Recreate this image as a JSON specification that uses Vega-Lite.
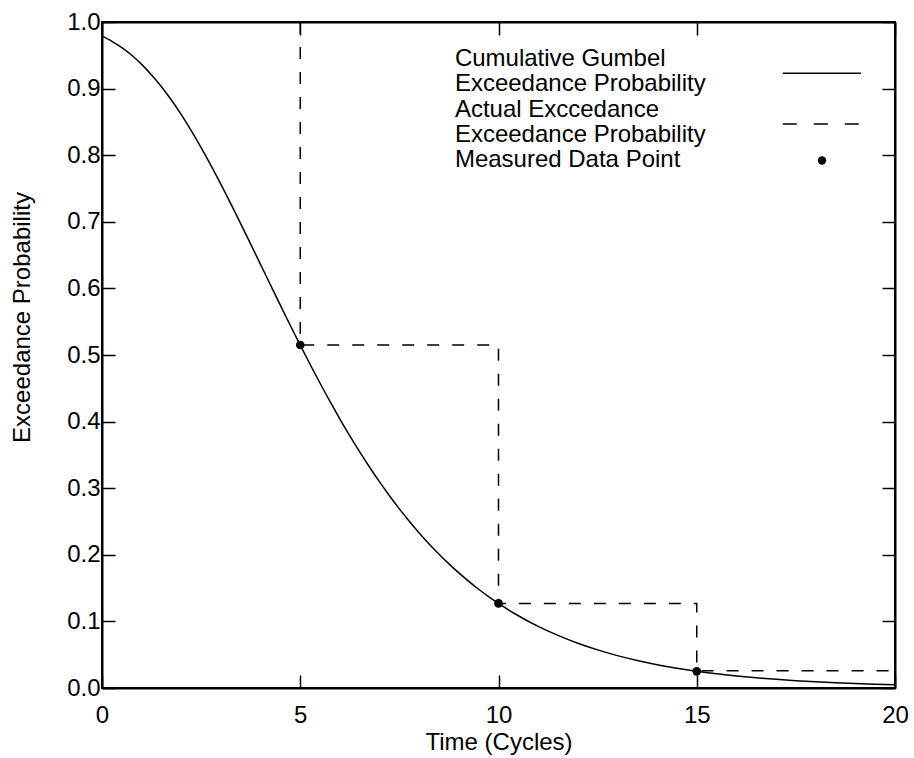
{
  "$schema": "https://vega.github.io/schema/vega-lite/v6.json",
  "width": 793,
  "height": 666,
  "autosize": "none",
  "padding": {"left": 102, "top": 22, "right": 19, "bottom": 70},
  "background": "white",
  "config": {
    "font": "Liberation Sans",
    "view": {"stroke": "black", "strokeWidth": 2},
    "axis": {
      "grid": false,
      "labelFont": "Liberation Sans",
      "titleFont": "Liberation Sans",
      "labelFontSize": 24,
      "titleFontSize": 24,
      "titleFontWeight": "normal",
      "labelColor": "black",
      "titleColor": "black",
      "tickColor": "black",
      "domainColor": "black",
      "domainWidth": 2,
      "tickWidth": 1.5,
      "labelFlush": false,
      "labelOverlap": false
    }
  },
  "datasets": {
    "curve": [
      {"t": 0, "p": 0.9787}, {"t": 0.25, "p": 0.971}, {"t": 0.5, "p": 0.9614}, {"t": 0.75, "p": 0.95},
      {"t": 1, "p": 0.9364}, {"t": 1.25, "p": 0.9206}, {"t": 1.5, "p": 0.9028}, {"t": 1.75, "p": 0.8828},
      {"t": 2, "p": 0.8608}, {"t": 2.25, "p": 0.8369}, {"t": 2.5, "p": 0.8114}, {"t": 2.75, "p": 0.7844},
      {"t": 3, "p": 0.7562}, {"t": 3.25, "p": 0.7269}, {"t": 3.5, "p": 0.697}, {"t": 3.75, "p": 0.6665},
      {"t": 4, "p": 0.6358}, {"t": 4.25, "p": 0.6051}, {"t": 4.5, "p": 0.5745}, {"t": 4.75, "p": 0.5443},
      {"t": 5, "p": 0.5147}, {"t": 5.25, "p": 0.4857}, {"t": 5.5, "p": 0.4576}, {"t": 5.75, "p": 0.4302},
      {"t": 6, "p": 0.4039}, {"t": 6.25, "p": 0.3787}, {"t": 6.5, "p": 0.3545}, {"t": 6.75, "p": 0.3315},
      {"t": 7, "p": 0.3095}, {"t": 7.25, "p": 0.2887}, {"t": 7.5, "p": 0.269}, {"t": 7.75, "p": 0.2504},
      {"t": 8, "p": 0.2329}, {"t": 8.25, "p": 0.2163}, {"t": 8.5, "p": 0.2009}, {"t": 8.75, "p": 0.1864},
      {"t": 9, "p": 0.1728}, {"t": 9.25, "p": 0.1601}, {"t": 9.5, "p": 0.1483}, {"t": 9.75, "p": 0.1372},
      {"t": 10, "p": 0.127}, {"t": 10.5, "p": 0.1085}, {"t": 11, "p": 0.0926}, {"t": 11.5, "p": 0.079},
      {"t": 12, "p": 0.0672}, {"t": 12.5, "p": 0.0572}, {"t": 13, "p": 0.0486}, {"t": 13.5, "p": 0.0413},
      {"t": 14, "p": 0.035}, {"t": 14.5, "p": 0.0297}, {"t": 15, "p": 0.0252}, {"t": 15.5, "p": 0.0214},
      {"t": 16, "p": 0.0181}, {"t": 16.5, "p": 0.0153}, {"t": 17, "p": 0.013}, {"t": 17.5, "p": 0.011},
      {"t": 18, "p": 0.0093}, {"t": 18.5, "p": 0.0079}, {"t": 19, "p": 0.0067}, {"t": 19.5, "p": 0.0056},
      {"t": 20, "p": 0.0048}
    ],
    "steps": [
      {"i": 0, "t": 5, "p": 1.0},
      {"i": 1, "t": 5, "p": 0.515},
      {"i": 2, "t": 10, "p": 0.515},
      {"i": 3, "t": 10, "p": 0.127},
      {"i": 4, "t": 15, "p": 0.127},
      {"i": 5, "t": 15, "p": 0.026},
      {"i": 6, "t": 19.85, "p": 0.026}
    ],
    "points": [
      {"t": 5, "p": 0.515},
      {"t": 10, "p": 0.127},
      {"t": 15, "p": 0.025}
    ],
    "legendText": [
      {"t": 8.9, "p": 0.934, "label": "Cumulative Gumbel"},
      {"t": 8.9, "p": 0.896, "label": "Exceedance Probability"},
      {"t": 8.9, "p": 0.858, "label": "Actual Exccedance"},
      {"t": 8.9, "p": 0.820, "label": "Exceedance Probability"},
      {"t": 8.9, "p": 0.782, "label": "Measured Data Point"}
    ],
    "legendSolid": [{"t": 17.17, "t2": 19.14, "p": 0.923}],
    "legendDash": [{"t": 17.17, "t2": 19.14, "p": 0.847}],
    "legendDot": [{"t": 18.16, "p": 0.792}]
  },
  "layer": [
    {
      "data": {"name": "curve"},
      "mark": {"type": "line", "color": "black", "strokeWidth": 1.5, "interpolate": "monotone"},
      "encoding": {
        "x": {"field": "t", "type": "quantitative", "scale": {"domain": [0, 20], "nice": false},
          "axis": {"orient": "bottom", "values": [0, 5, 10, 15, 20], "format": "d", "tickSize": -13, "labelPadding": 28, "title": "Time (Cycles)", "titlePadding": 3}},
        "y": {"field": "p", "type": "quantitative", "scale": {"domain": [0, 1], "nice": false},
          "axis": {"orient": "left", "values": [0, 0.1, 0.2, 0.3, 0.4, 0.5, 0.6, 0.7, 0.8, 0.9, 1.0], "format": ".1f", "tickSize": -13, "labelPadding": 15, "title": "Exceedance Probability", "titlePadding": 32, "titleY": 295}}
      }
    },
    {
      "data": {"name": "steps"},
      "mark": {"type": "line", "color": "black", "strokeWidth": 1.5, "strokeDash": [12, 13]},
      "encoding": {
        "x": {"field": "t", "type": "quantitative",
          "axis": {"orient": "top", "values": [0, 5, 10, 15, 20], "labels": false, "tickSize": -13, "title": null}},
        "y": {"field": "p", "type": "quantitative",
          "axis": {"orient": "right", "values": [0, 0.1, 0.2, 0.3, 0.4, 0.5, 0.6, 0.7, 0.8, 0.9, 1.0], "labels": false, "tickSize": -13, "title": null}},
        "order": {"field": "i", "type": "quantitative"}
      }
    },
    {
      "data": {"name": "points"},
      "mark": {"type": "circle", "color": "black", "size": 75, "opacity": 1},
      "encoding": {
        "x": {"field": "t", "type": "quantitative", "axis": null},
        "y": {"field": "p", "type": "quantitative", "axis": null}
      }
    },
    {
      "data": {"name": "legendText"},
      "mark": {"type": "text", "align": "left", "baseline": "alphabetic", "fontSize": 24, "font": "Liberation Sans", "color": "black"},
      "encoding": {
        "x": {"field": "t", "type": "quantitative", "axis": null},
        "y": {"field": "p", "type": "quantitative", "axis": null},
        "text": {"field": "label"}
      }
    },
    {
      "data": {"name": "legendSolid"},
      "mark": {"type": "rule", "color": "black", "strokeWidth": 1.5},
      "encoding": {
        "x": {"field": "t", "type": "quantitative", "axis": null},
        "x2": {"field": "t2"},
        "y": {"field": "p", "type": "quantitative", "axis": null}
      }
    },
    {
      "data": {"name": "legendDash"},
      "mark": {"type": "rule", "color": "black", "strokeWidth": 1.5, "strokeDash": [14, 17]},
      "encoding": {
        "x": {"field": "t", "type": "quantitative", "axis": null},
        "x2": {"field": "t2"},
        "y": {"field": "p", "type": "quantitative", "axis": null}
      }
    },
    {
      "data": {"name": "legendDot"},
      "mark": {"type": "circle", "color": "black", "size": 70, "opacity": 1},
      "encoding": {
        "x": {"field": "t", "type": "quantitative", "axis": null},
        "y": {"field": "p", "type": "quantitative", "axis": null}
      }
    }
  ],
  "resolve": {"axis": {"x": "independent", "y": "independent"}}
}
